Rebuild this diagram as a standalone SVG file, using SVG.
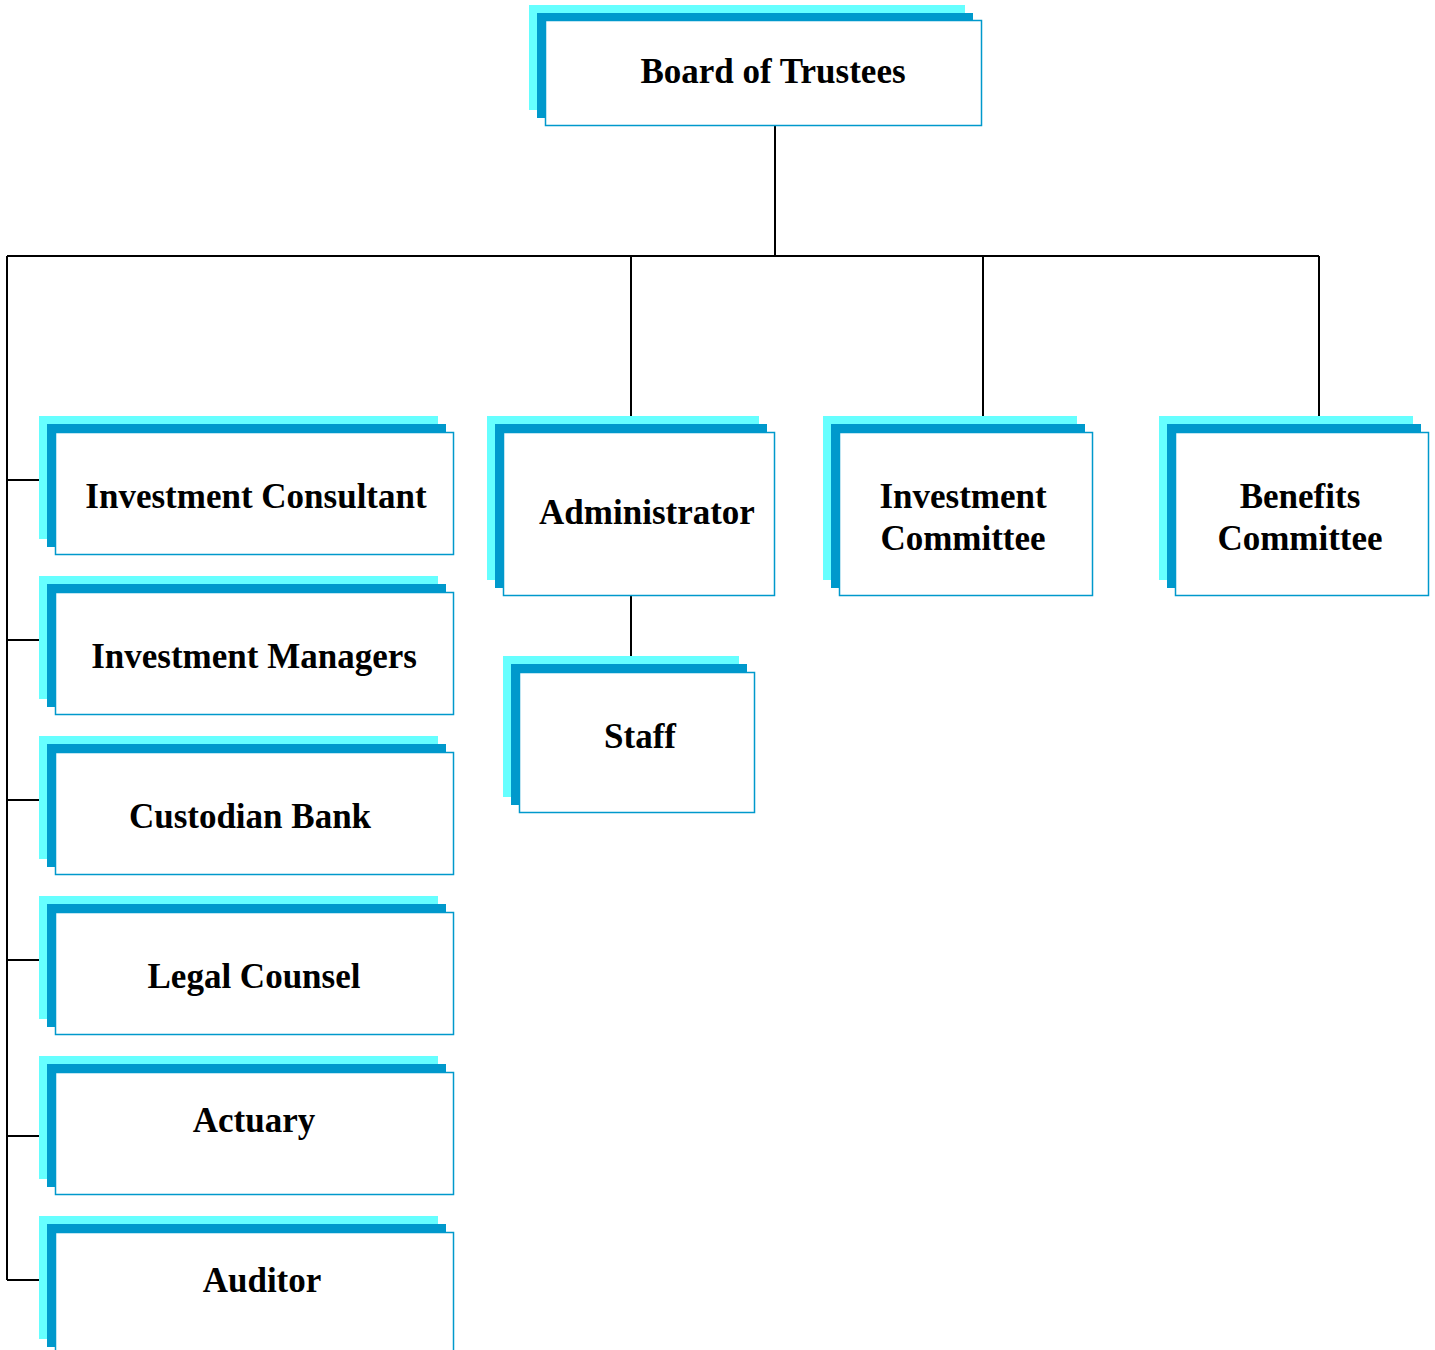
<svg xmlns="http://www.w3.org/2000/svg" width="1435" height="1350" viewBox="0 0 1435 1350">
<style>
.c{fill:#66FFFF}
.b{fill:#0099CC}
.w{fill:#FFFFFF;stroke:#0099CC;stroke-width:1.5}
.t{font-family:"Liberation Serif","Times New Roman",serif;font-weight:bold;font-size:35px;fill:#000;text-anchor:middle}
.ln{stroke:#000;stroke-width:2;fill:none}
</style>
<rect width="1435" height="1350" fill="#FFFFFF"/>
<g id="connectors">
<path class="ln" d="M775,126 V256 M7,256 H1319 M7,256 V1280 M631,256 V416 M983,256 V416 M1319,256 V416 M631,592 V662"/>
<path class="ln" d="M7,480 H40 M7,640 H40 M7,800 H40 M7,960 H40 M7,1136 H40 M7,1280 H40"/>
</g>
<g id="board">
<rect class="c" x="529" y="5" width="436" height="105"/>
<rect class="b" x="537" y="13" width="436" height="105"/>
<rect class="w" x="545.5" y="20.5" width="436" height="105"/>
<text class="t" x="773" y="83">Board of Trustees</text>
</g>
<g id="investment-consultant">
<rect class="c" x="39" y="416" width="399" height="123"/>
<rect class="b" x="47" y="424" width="399" height="123"/>
<rect class="w" x="55.5" y="432.5" width="398" height="122"/>
<text class="t" x="256" y="508">Investment Consultant</text>
</g>
<g id="investment-managers">
<rect class="c" x="39" y="576" width="399" height="123"/>
<rect class="b" x="47" y="584" width="399" height="123"/>
<rect class="w" x="55.5" y="592.5" width="398" height="122"/>
<text class="t" x="254" y="668">Investment Managers</text>
</g>
<g id="custodian-bank">
<rect class="c" x="39" y="736" width="399" height="123"/>
<rect class="b" x="47" y="744" width="399" height="123"/>
<rect class="w" x="55.5" y="752.5" width="398" height="122"/>
<text class="t" x="250" y="828">Custodian Bank</text>
</g>
<g id="legal-counsel">
<rect class="c" x="39" y="896" width="399" height="123"/>
<rect class="b" x="47" y="904" width="399" height="123"/>
<rect class="w" x="55.5" y="912.5" width="398" height="122"/>
<text class="t" x="254" y="988">Legal Counsel</text>
</g>
<g id="actuary">
<rect class="c" x="39" y="1056" width="399" height="123"/>
<rect class="b" x="47" y="1064" width="399" height="123"/>
<rect class="w" x="55.5" y="1072.5" width="398" height="122"/>
<text class="t" x="254" y="1132">Actuary</text>
</g>
<g id="auditor">
<rect class="c" x="39" y="1216" width="399" height="123"/>
<rect class="b" x="47" y="1224" width="399" height="123"/>
<rect class="w" x="55.5" y="1232.5" width="398" height="122"/>
<text class="t" x="262" y="1292">Auditor</text>
</g>
<g id="administrator">
<rect class="c" x="487" y="416" width="272" height="164"/>
<rect class="b" x="495" y="424" width="272" height="164"/>
<rect class="w" x="503.5" y="432.5" width="271" height="163"/>
<text class="t" x="647" y="524">Administrator</text>
</g>
<g id="staff">
<rect class="c" x="503" y="656" width="236" height="141"/>
<rect class="b" x="511" y="664" width="236" height="141"/>
<rect class="w" x="519.5" y="672.5" width="235" height="140"/>
<text class="t" x="640" y="748">Staff</text>
</g>
<g id="investment-committee">
<rect class="c" x="823" y="416" width="254" height="164"/>
<rect class="b" x="831" y="424" width="254" height="164"/>
<rect class="w" x="839.5" y="432.5" width="253" height="163"/>
<text class="t" x="963" y="508">Investment</text>
<text class="t" x="963" y="550">Committee</text>
</g>
<g id="benefits-committee">
<rect class="c" x="1159" y="416" width="254" height="164"/>
<rect class="b" x="1167" y="424" width="254" height="164"/>
<rect class="w" x="1175.5" y="432.5" width="253" height="163"/>
<text class="t" x="1300" y="508">Benefits</text>
<text class="t" x="1300" y="550">Committee</text>
</g>
</svg>
